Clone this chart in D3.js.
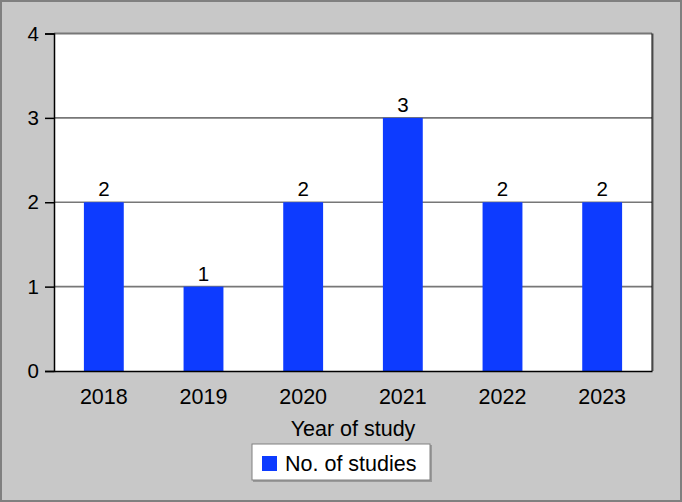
<!DOCTYPE html>
<html>
<head>
<meta charset="utf-8">
<script src="https://cdn.jsdelivr.net/npm/d3@7"></script>
<style>
  html, body { margin: 0; padding: 0; background: #c8c8c8; }
  svg { display: block; font-family: "Liberation Sans", Arial, sans-serif; }
</style>
</head>
<body>
<div id="chart"></div>
<script>
const years = ["2018", "2019", "2020", "2021", "2022", "2023"];
const studies = [2, 1, 2, 3, 2, 2];
const yTicks = [0, 1, 2, 3, 4];

const W = 682, H = 502;
const m = {top: 33.5, right: 30, bottom: 131, left: 54};

const svg = d3.select("#chart").append("svg").attr("width", W).attr("height", H);

// outer frame
svg.append("rect").attr("x", 1).attr("y", 1).attr("width", W - 2).attr("height", H - 2)
    .attr("fill", "#c8c8c8").attr("stroke", "#808080").attr("stroke-width", 2);

const x = d3.scaleBand().domain(years).range([m.left, W - m.right]);
const y = d3.scaleLinear().domain([0, 4]).range([H - m.bottom, m.top]);

// plot area
svg.append("rect").attr("x", m.left).attr("y", m.top)
    .attr("width", W - m.right - m.left).attr("height", H - m.bottom - m.top)
    .attr("fill", "#fff");

// gridlines
svg.append("g").selectAll("line").data(yTicks.filter(d => d > 0)).join("line")
    .attr("x1", m.left).attr("x2", W - m.right)
    .attr("y1", d => y(d)).attr("y2", d => y(d))
    .attr("stroke", "#777").attr("stroke-width", d => d === 4 ? 2 : 1.6);

// bars
const bw = x.bandwidth() * 0.4;
svg.append("g").selectAll("rect").data(studies).join("rect")
    .attr("x", (d, i) => x(years[i]) + (x.bandwidth() - bw) / 2)
    .attr("y", d => y(d))
    .attr("width", bw)
    .attr("height", d => y(0) - y(d))
    .attr("fill", "#0d3bff");

// value labels
svg.append("g").selectAll("text").data(studies).join("text")
    .attr("x", (d, i) => x(years[i]) + x.bandwidth() / 2)
    .attr("y", d => y(d) - 6)
    .attr("text-anchor", "middle")
    .attr("font-size", 20.5)
    .attr("fill", "#000")
    .text(d => d);

// right border
svg.append("line").attr("x1", W - m.right + 1).attr("x2", W - m.right + 1)
    .attr("y1", m.top).attr("y2", y(0))
    .attr("stroke", "#909090").attr("stroke-width", 2);
svg.append("line").attr("x1", W - m.right).attr("x2", W - m.right)
    .attr("y1", m.top).attr("y2", y(0))
    .attr("stroke", "#000").attr("stroke-width", 1);

// y axis
const yAxis = svg.append("g").attr("transform", `translate(${m.left},0)`)
    .call(d3.axisLeft(y).tickValues(yTicks).tickFormat(d3.format("d")).tickSize(9).tickPadding(6));
yAxis.select(".domain").attr("stroke", "#000").attr("stroke-width", 1.5);
yAxis.selectAll(".tick line").attr("stroke", "#000").attr("stroke-width", 1.5);
yAxis.selectAll("text").attr("font-size", 20.5).attr("fill", "#000").attr("font-family", null);

// x axis
const xAxis = svg.append("g").attr("transform", `translate(0,${y(0)})`)
    .call(d3.axisBottom(x).tickSize(0).tickPadding(18));
xAxis.select(".domain").attr("stroke", "#000").attr("stroke-width", 1.5);
xAxis.selectAll("text").attr("font-size", 21.5).attr("fill", "#000").attr("font-family", null);

// x title
svg.append("text").attr("x", (m.left + W - m.right) / 2).attr("y", 436)
    .attr("text-anchor", "middle").attr("font-size", 21.5).attr("fill", "#000")
    .text("Year of study");

// legend
const lg = svg.append("g");
lg.append("rect").attr("x", 253).attr("y", 445).attr("width", 179).attr("height", 37)
    .attr("fill", "#9a9a9a");
lg.append("rect").attr("x", 252).attr("y", 444).attr("width", 178).attr("height", 36)
    .attr("fill", "#fff").attr("stroke", "#808080").attr("stroke-width", 1);
lg.append("rect").attr("x", 262).attr("y", 456).attr("width", 15).attr("height", 15)
    .attr("fill", "#0d3bff");
lg.append("text").attr("x", 285).attr("y", 471).attr("font-size", 21.5).attr("fill", "#000")
    .text("No. of studies");
</script>
</body>
</html>
